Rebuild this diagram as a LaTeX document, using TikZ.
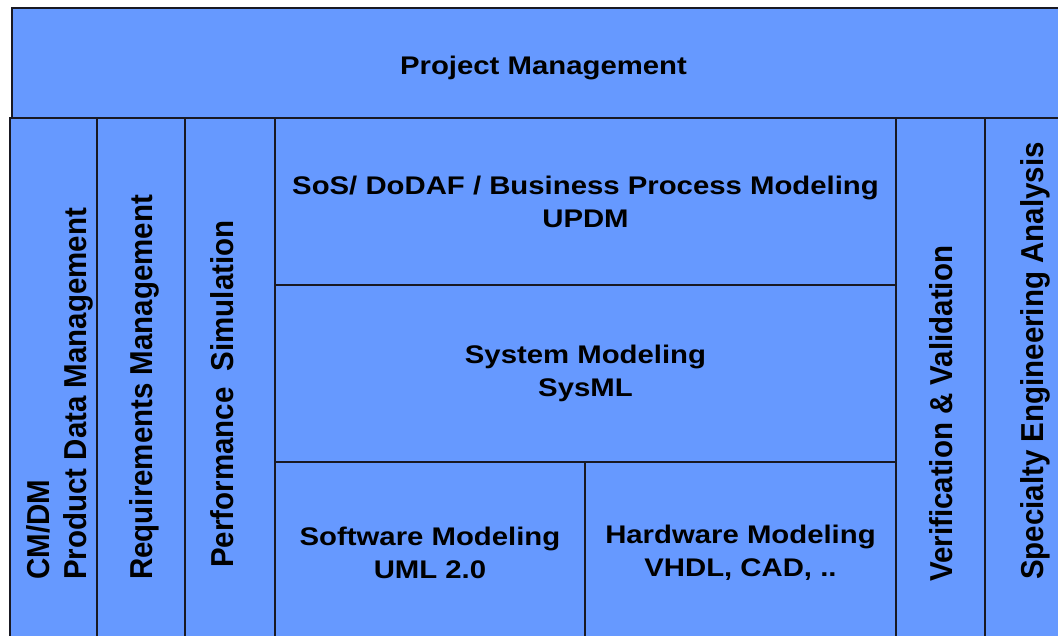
\documentclass[tikz,border=0pt]{standalone}
\usepackage{fontspec}
\setmainfont{Liberation Sans}
\newfontfamily\hfont{Liberation Sans}[FakeStretch=1.15]
\newfontfamily\vfont{Liberation Sans}[FakeStretch=0.93]
\usepackage{tikz}
\definecolor{boxblue}{RGB}{102,153,255}
\definecolor{edgegray}{RGB}{25,25,35}
\tikzset{
  blk/.style={draw=edgegray,fill=boxblue,line width=1.3pt,inner sep=0pt,align=center,
    font=\hfont\bfseries\fontsize{25.5}{33}\selectfont},
  vtxt/.style={rotate=90,inner sep=0pt,align=left,
    font=\vfont\bfseries\fontsize{31.7}{37}\selectfont},
}
\begin{document}
\begin{tikzpicture}[x=1pt,y=-1pt]

\useasboundingbox (0,0) rectangle (1058,636);
\clip (0,0) rectangle (1058,636);
\fill[white] (0,0) rectangle (1058,636);

\node[blk,minimum width=1063,minimum height=110,text height=24pt,text depth=0pt] (pm) at (543.5,63) {Project Management};

\node[blk,minimum width=87,minimum height=525] (cmdm) at (53.5,380.5) {};
\node[blk,minimum width=88,minimum height=525] (req) at (141,380.5) {};
\node[blk,minimum width=90,minimum height=525] (perf) at (230,380.5) {};
\node[blk,minimum width=621,minimum height=167] (sos) at (585.5,201.5) {SoS/ DoDAF / Business Process Modeling\\UPDM};
\node[blk,minimum width=621,minimum height=177] (sys) at (585.5,373.5) {System Modeling\\SysML};
\node[blk,minimum width=310,minimum height=181] (sw) at (430,552.5) {Software Modeling\\UML 2.0};
\node[blk,minimum width=311,minimum height=181] (hw) at (740.5,552.5) {Hardware Modeling\\VHDL, CAD, ..};
\node[blk,minimum width=89,minimum height=525] (vv) at (940.5,380.5) {};
\node[blk,minimum width=90,minimum height=525] (sea) at (1030,380.5) {};

\node[vtxt,anchor=west] (cmdm-txt) at (60,580) {CM/DM\\Product Data Management};
\node[vtxt,anchor=base west] (req-txt) at (152,580) {Requirements Management};
\node[vtxt,anchor=base west] (perf-txt) at (233,568) {Performance~~Simulation};
\node[vtxt,anchor=base west] (vv-txt) at (952,582) {Verification \& Validation};
\node[vtxt,anchor=base west] (sea-txt) at (1043,580) {Specialty Engineering Analysis};
\end{tikzpicture}
\end{document}
